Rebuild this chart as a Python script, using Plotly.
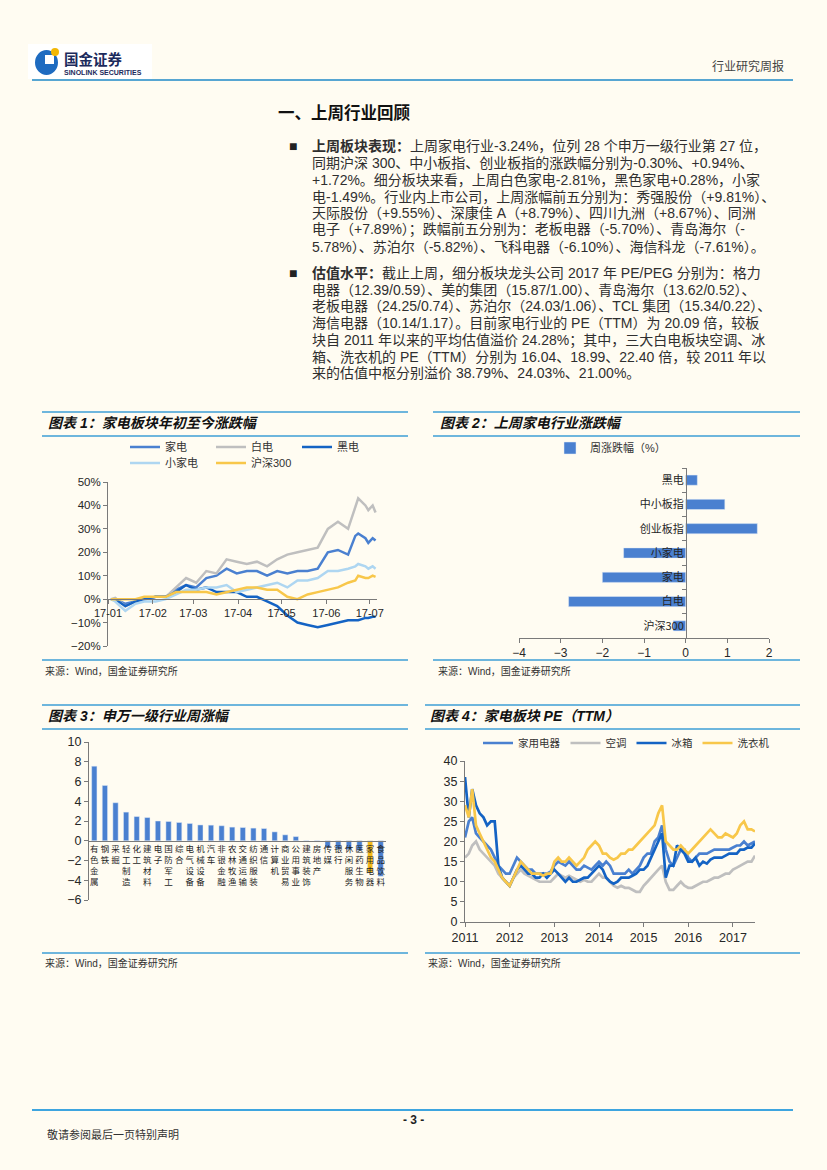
import plotly.graph_objects as go

W, H = 827, 1170
def px(x): return x / W
def py(y): return 1 - y / H

FONT = "Liberation Sans, Noto Sans CJK SC, sans-serif"
CJK = "Noto Sans CJK SC, sans-serif"
BG = "#FFFCF2"
AX = "#7A7A7A"
TXT = "#262626"
C_JD = "#4A80D0"
C_BD = "#BFBFBF"
C_HD = "#1463C4"
C_XJD = "#AED6F1"
C_HS = "#F8C74A"
C_BAR = "#4A80D0"
C_HL = "#F5BA1B"
C_LINE = "#3E9FD6"

# ---------------- data ----------------
# Chart 1: YTD change (%)
c1_dates = ["2017-01-03", "2017-01-06", "2017-01-13", "2017-01-20", "2017-01-26", "2017-02-03",
            "2017-02-10", "2017-02-17", "2017-02-24", "2017-03-03", "2017-03-10", "2017-03-17",
            "2017-03-24", "2017-03-31", "2017-04-07", "2017-04-14", "2017-04-21", "2017-04-28",
            "2017-05-05", "2017-05-12", "2017-05-19", "2017-05-26", "2017-06-02", "2017-06-09",
            "2017-06-16", "2017-06-21", "2017-06-23", "2017-06-28", "2017-06-30", "2017-07-03",
            "2017-07-05"]
c1_jiadian = [0, 0, -2, -1, 0, 1, 1, 4, 6, 5, 9, 10, 13, 11, 12, 12, 10, 12, 11, 12, 12, 13,
              20, 21, 19, 27, 28, 26, 24, 26, 25]
c1_baidian = [0, 0.5, -3, -1, 0, 1, 1, 5, 9, 7, 12, 11, 17, 16, 15, 16, 14, 17, 19, 20, 21, 22,
              30, 33, 30, 40, 43, 40, 38, 40, 37]
c1_heidian = [0, 0, -3, -1, 0, 1, 1, 3, 6, 4, 5, 3, 3, 3, 1, 1, -1, -3, -7, -10, -11, -12,
              -11, -10, -9, -9, -9, -8, -8, -7.5, -7.5]
c1_xiaojiadian = [0, -1, -5, -2, -1, -1, 0, 2, 4, 4, 5, 5, 6, 3, 4, 5, 6, 7, 5, 8, 8, 9,
                  12, 12, 13, 14, 15, 14, 13, 14, 13]
c1_hs300 = [0, 0, 0, 0, 1, 1, 1, 3, 3, 3, 3, 2, 3, 4, 5, 5, 4, 4, 1, 0, 2, 3,
            4, 5, 7, 8, 10, 9, 9, 10, 9.5]

# Chart 2: weekly change (%), bottom to top
c2_cats = ["沪深300", "白电", "家电", "小家电", "创业板指", "中小板指", "黑电"]
c2_vals = [-0.30, -2.81, -2.00, -1.49, 1.72, 0.94, 0.28]

# Chart 3: Shenwan level-1 industries weekly change (%)
c3_cats = ["有色金属", "钢铁", "采掘", "轻工制造", "化工", "建筑材料", "电子", "国防军工", "综合",
           "电气设备", "机械设备", "汽车", "非银金融", "农林牧渔", "交通运输", "纺织服装", "通信",
           "计算机", "商业贸易", "公用事业", "建筑装饰", "房地产", "传媒", "银行", "休闲服务",
           "医药生物", "家用电器", "食品饮料"]
c3_vals = [7.55, 5.6, 3.85, 2.9, 2.45, 2.35, 2.0, 1.95, 1.85, 1.75, 1.6, 1.58, 1.52, 1.38, 1.34,
           1.28, 1.24, 0.9, 0.6, 0.42, 0.03, -0.1, -0.7, -0.85, -0.9, -1.0, -3.24, -3.6]
c3_highlight = "家用电器"

# Chart 4: PE (TTM), monthly
c4_dates = [f"{y}-{m:02d}-01" for y in range(2011, 2018) for m in range(1, 13)
            if not (y == 2017 and m > 6)] + ["2017-06-30"]
c4_jydq = [21, 25, 26, 22, 21, 20, 19, 18, 16, 14, 13, 12,
           12, 14, 16, 15, 14, 13, 13, 12, 12, 12, 12, 12.5,
           14, 15, 14.5, 14, 15, 14, 13, 13, 14, 13.5, 13, 14,
           15, 14, 15, 14, 12, 12, 12, 12, 13, 12, 13, 14,
           16, 17, 17, 20, 21, 24, 18, 15, 14, 16, 18, 18,
           16, 15, 16, 17, 17, 17, 17.5, 18, 18, 18, 18, 18,
           18.5, 19, 19, 20, 19, 19.5, 20]
c4_kt = [16, 17, 19, 20, 18, 17, 16, 15, 14, 12, 11, 10,
         9, 11, 12, 13, 12, 11.5, 11, 10.5, 10, 10, 10, 10,
         11, 12, 11.5, 11, 11.5, 11, 10.5, 10, 10.5, 10, 10, 11,
         12, 11, 11, 10, 9, 8.5, 9, 8.5, 8.5, 8, 7.5, 7.5,
         9, 10, 11, 12, 13, 14, 10, 8, 8, 9, 10, 9,
         8.5, 8.5, 9, 9.5, 10, 10, 10.5, 11, 11, 11.5, 12, 12,
         13, 13.5, 14, 14.5, 15, 15, 16.5]
c4_bx = [36, 26, 33, 29, 27, 26, 24, 25, 25, 14, 11, 10,
         9, 11, 13, 14, 13, 12, 12, 11, 11, 12, 11, 12,
         13, 12, 11, 10, 11, 10, 10, 10.5, 11, 11, 12, 13,
         14, 13, 11, 10, 9.5, 10, 11, 11, 11, 11.5, 12, 13,
         13, 14, 16, 18, 20, 22, 11, 14, 14, 19, 18, 17,
         15, 15, 16, 14, 15, 14.5, 15.5, 16, 16, 16, 16.5, 17,
         17, 17, 18, 18, 18.5, 18.5, 19.5]
c4_xyj = [29, 26, 33, 24, 22, 20, 18, 16, 15, 13, 11, 10,
          9, 11, 13, 15, 14, 13, 12, 12, 12, 11.5, 12, 12,
          15, 16, 15, 15, 16, 15, 14, 15, 16, 18, 19, 20,
          19, 17, 17, 16, 15.5, 16, 17, 17, 18, 18, 19, 20,
          21, 22, 23, 24, 27, 29, 20, 19, 18, 18, 19, 18,
          17, 18, 19, 20, 21, 22, 23, 22, 21, 21, 22, 21.5,
          21, 22, 24, 25, 23, 23, 22.5]

# Body text lines
p1_lines = [
    "<b>上周板块表现：</b>上周家电行业-3.24%，位列 28 个申万一级行业第 27 位，",
    "同期沪深 300、中小板指、创业板指的涨跌幅分别为-0.30%、+0.94%、",
    "+1.72%。细分板块来看，上周白色家电-2.81%，黑色家电+0.28%，小家",
    "电-1.49%。行业内上市公司，上周涨幅前五分别为：秀强股份（+9.81%）、",
    "天际股份（+9.55%）、深康佳 A（+8.79%）、四川九洲（+8.67%）、同洲",
    "电子（+7.89%）；跌幅前五分别为：老板电器（-5.70%）、青岛海尔（-",
    "5.78%）、苏泊尔（-5.82%）、飞科电器（-6.10%）、海信科龙（-7.61%）。",
]
p2_lines = [
    "<b>估值水平：</b>截止上周，细分板块龙头公司 2017 年 PE/PEG 分别为：格力",
    "电器（12.39/0.59）、美的集团（15.87/1.00）、青岛海尔（13.62/0.52）、",
    "老板电器（24.25/0.74）、苏泊尔（24.03/1.06）、TCL 集团（15.34/0.22）、",
    "海信电器（10.14/1.17）。目前家电行业的 PE（TTM）为 20.09 倍，较板",
    "块自 2011 年以来的平均估值溢价 24.28%；其中，三大白电板块空调、冰",
    "箱、洗衣机的 PE（TTM）分别为 16.04、18.99、22.40 倍，较 2011 年以",
    "来的估值中枢分别溢价 38.79%、24.03%、21.00%。",
]
p1_y = [146, 163, 180, 197, 213, 230, 247]
p2_y = [273, 290, 306, 323, 340, 357, 373]

fig = go.Figure()

# ---------------- chart 1 ----------------
for name, vals, col, lg in [("家电", c1_jiadian, C_JD, "legend"),
                            ("白电", c1_baidian, C_BD, "legend"),
                            ("黑电", c1_heidian, C_HD, "legend"),
                            ("小家电", c1_xiaojiadian, C_XJD, "legend2"),
                            ("沪深300", c1_hs300, C_HS, "legend2")]:
    fig.add_trace(go.Scatter(x=c1_dates, y=vals, mode="lines", name=name,
                             line=dict(color=col, width=2.5), xaxis="x", yaxis="y", legend=lg))

# ---------------- chart 2 ----------------
fig.add_trace(go.Bar(x=c2_vals, y=c2_cats, orientation="h", name="周涨跌幅（%）",
                     marker=dict(color=C_BAR), width=0.42, xaxis="x2", yaxis="y2", legend="legend3"))

# ---------------- chart 3 ----------------
fig.add_trace(go.Bar(x=c3_cats, y=c3_vals, width=0.5, showlegend=False,
                     marker=dict(color=[C_HL if c == c3_highlight else C_BAR for c in c3_cats]),
                     xaxis="x3", yaxis="y3"))

# ---------------- chart 4 ----------------
for name, vals, col in [("家用电器", c4_jydq, C_JD), ("空调", c4_kt, C_BD),
                        ("冰箱", c4_bx, C_HD), ("洗衣机", c4_xyj, C_HS)]:
    fig.add_trace(go.Scatter(x=c4_dates, y=vals, mode="lines", name=name,
                             line=dict(color=col, width=2.7), xaxis="x4", yaxis="y4", legend="legend4"))

axcommon = dict(showline=True, linecolor=AX, linewidth=1, ticks="outside", ticklen=4, tickcolor=AX,
                showgrid=False, zeroline=False, tickfont=dict(size=11.5, color=TXT, family=FONT))

def leg(x, y, **kw):
    d = dict(x=px(x), y=py(y), xanchor="left", yanchor="middle", orientation="h",
             bgcolor="rgba(0,0,0,0)", font=dict(size=11, color="#333", family=FONT),
             itemwidth=30, tracegroupgap=0)
    d.update(kw)
    return d

fig.update_layout(
    width=W, height=H, margin=dict(l=0, r=0, t=0, b=0, autoexpand=False),
    paper_bgcolor=BG, plot_bgcolor="rgba(0,0,0,0)",
    xaxis=dict(axcommon, domain=[px(108), px(377)], type="date", range=["2017-01-01", "2017-07-06"],
               dtick="M1", tick0="2017-01-01", tickformat="%y-%m", anchor="free", position=py(599),
               tickfont=dict(size=11, color=TXT, family=FONT)),
    yaxis=dict(axcommon, domain=[py(646), py(482)], range=[-20, 50], dtick=10, ticksuffix="%", anchor="x"),
    xaxis2=dict(axcommon, domain=[px(519), px(769)], range=[-4, 2], dtick=1, anchor="y2",
                tickfont=dict(size=12, color=TXT, family=FONT)),
    yaxis2=dict(axcommon, domain=[py(638), py(468)], type="category", categoryorder="array",
                categoryarray=c2_cats, range=[-0.5, 6.5], anchor="free", position=px(686),
                tickson="boundaries", tickfont=dict(size=11, color=TXT, family=CJK)),
    xaxis3=dict(axcommon, domain=[px(89), px(386)], type="category", range=[-0.5, 27.5],
                anchor="free", position=py(840.75), ticks="", tickangle=0,
                tickvals=c3_cats, ticktext=["<br>".join(list(c)) for c in c3_cats],
                tickfont=dict(size=8.5, color=TXT, family=CJK)),
    yaxis3=dict(axcommon, domain=[py(900), py(742)], range=[-6, 10], dtick=2, anchor="x3",
                tickfont=dict(size=12.5, color=TXT, family=FONT)),
    xaxis4=dict(axcommon, domain=[px(465), px(755)], type="date", range=["2011-01-01", "2017-06-30"],
                dtick="M12", tick0="2011-01-01", tickformat="%Y", anchor="y4",
                tickfont=dict(size=12.5, color=TXT, family=FONT)),
    yaxis4=dict(axcommon, domain=[py(922), py(761)], range=[0, 40], dtick=5, anchor="x4",
                tickfont=dict(size=12.5, color=TXT, family=FONT)),
    legend=leg(125, 447, entrywidth=41, entrywidthmode="pixels"),
    legend2=leg(125, 463, entrywidth=41, entrywidthmode="pixels"),
    legend3=leg(550, 448),
    legend4=leg(478, 743, font=dict(size=10.5, color="#333", family=FONT)),
    showlegend=True,
)

# ---------------- shapes ----------------
shapes = []
def hline(x0, x1, y, color=C_LINE, w=1.5):
    shapes.append(dict(type="line", xref="paper", yref="paper", x0=px(x0), x1=px(x1),
                       y0=py(y), y1=py(y), line=dict(color=color, width=w)))
hline(32, 793, 80, "#57A6D2", 2)
hline(32, 793, 1110, "#3EA5DF", 2)
for (x0, x1, ys) in [(42, 408, [412, 436, 660]), (433, 800, [412, 436, 660]),
                     (42, 408, [705, 729, 953]), (425, 800, [705, 729, 953])]:
    for y in ys:
        hline(x0, x1, y)
# logo
shapes.append(dict(type="rect", xref="paper", yref="paper", x0=px(28), x1=px(152), y0=py(79), y1=py(44),
                   fillcolor="#FFFFFF", line=dict(width=0), layer="below"))
shapes.append(dict(type="circle", xref="paper", yref="paper", x0=px(35), x1=px(58), y0=py(75), y1=py(50),
                   fillcolor="#1E6BC0", line=dict(width=0)))
shapes.append(dict(type="rect", xref="paper", yref="paper", x0=px(45), x1=px(54), y0=py(64), y1=py(55),
                   fillcolor="#FFFFFF", line=dict(width=0)))
shapes.append(dict(type="circle", xref="paper", yref="paper", x0=px(51), x1=px(59), y0=py(56), y1=py(48),
                   fillcolor="#F2B705", line=dict(width=0)))
fig.update_layout(shapes=shapes)

# ---------------- annotations ----------------
anns = []
def ann(x, y, text, size, color="#222", xanchor="left", family=FONT):
    anns.append(dict(xref="paper", yref="paper", x=px(x), y=py(y), text=text, showarrow=False,
                     xanchor=xanchor, yanchor="middle", font=dict(size=size, color=color, family=family)))

ann(62, 58, "<b>国金证券</b>", 14.5, "#1B2A5C", family=CJK)
ann(62, 72, "<b>SINOLINK SECURITIES</b>", 7, "#1B2A5C")
ann(786, 65, "行业研究周报", 12, "#444", xanchor="right", family=CJK)
ann(276, 112, "<b>一、上周行业回顾</b>", 16.5, "#111", family=CJK)
ann(287, p1_y[0], "■", 14, "#222")
ann(287, p2_y[0], "■", 14, "#222")
for t, y in zip(p1_lines, p1_y):
    ann(310, y, t, 14, "#2f2f2f")
for t, y in zip(p2_lines, p2_y):
    ann(310, y, t, 14, "#2f2f2f")

ann(46, 423, "<b><i>图表 1：家电板块年初至今涨跌幅</i></b>", 14, "#111")
ann(438, 423, "<b><i>图表 2：上周家电行业涨跌幅</i></b>", 14, "#111")
ann(46, 716, "<b><i>图表 3：申万一级行业周涨幅</i></b>", 14, "#111")
ann(428, 716, "<b><i>图表 4：家电板块 PE（TTM）</i></b>", 14, "#111")
for x, y in [(43, 671), (436, 671), (43, 963), (426, 963)]:
    ann(x, y, "来源：Wind，国金证券研究所", 10, "#333")

ann(413, 1120, "<b>- 3 -</b>", 12, "#222", xanchor="center")
ann(45, 1134, "敬请参阅最后一页特别声明", 11, "#333", family=CJK)
fig.update_layout(annotations=anns)

fig.write_html("out.html", config={"displayModeBar": False},
               post_script="document.body.style.margin='0';document.body.style.overflow='hidden';")
